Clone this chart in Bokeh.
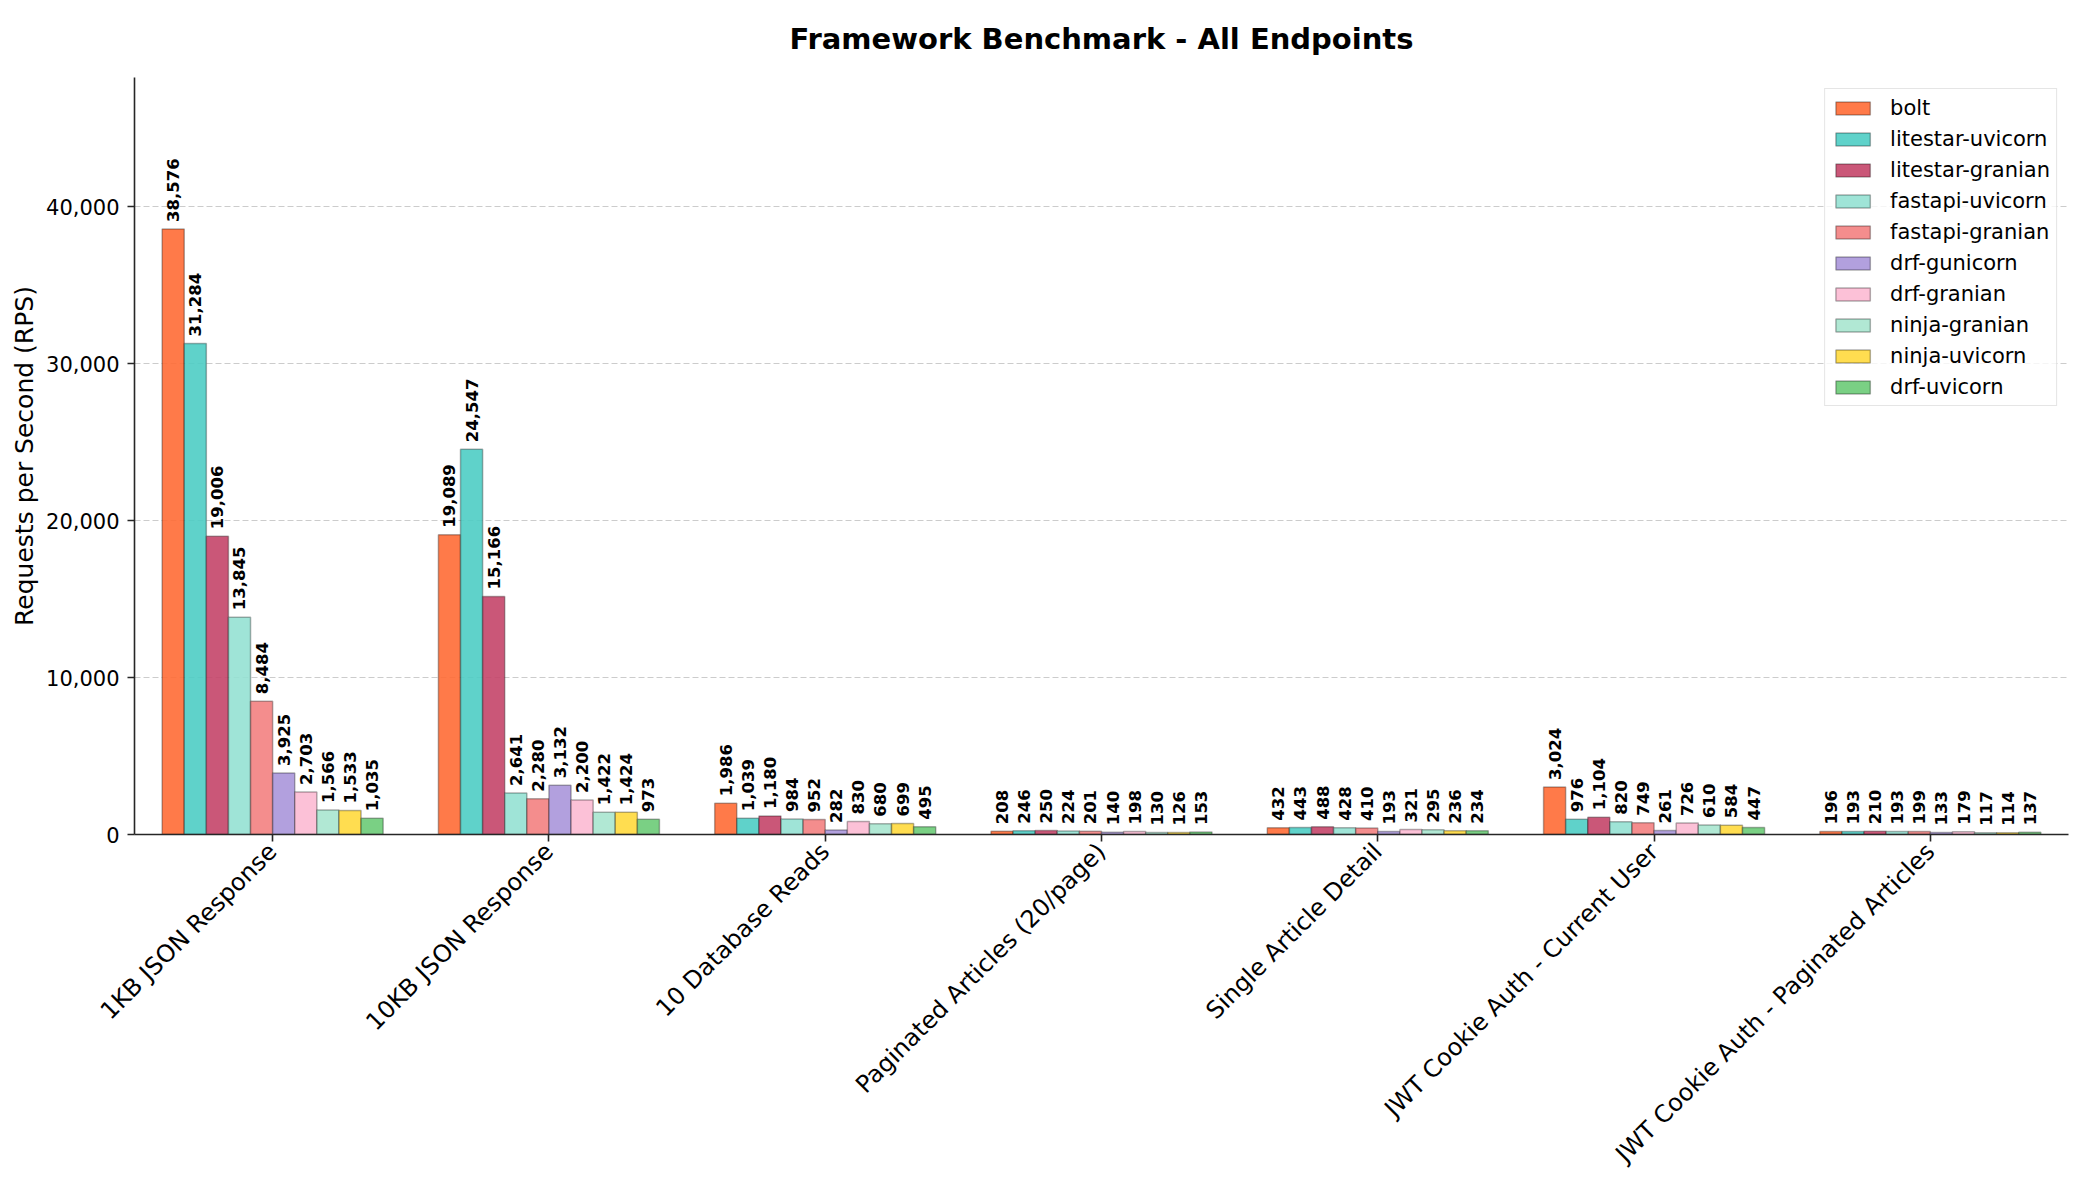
from math import pi
from bokeh.plotting import figure
from bokeh.models import ColumnDataSource, FactorRange, Range1d, NumeralTickFormatter, Title
from bokeh.transform import dodge
from bokeh.core.properties import value
from bokeh.embed import file_html
from bokeh.resources import INLINE

# ---- data ----
endpoints = [
    "1KB JSON Response",
    "10KB JSON Response",
    "10 Database Reads",
    "Paginated Articles (20/page)",
    "Single Article Detail",
    "JWT Cookie Auth - Current User",
    "JWT Cookie Auth - Paginated Articles",
]
frameworks = [
    "bolt", "litestar-uvicorn", "litestar-granian", "fastapi-uvicorn", "fastapi-granian",
    "drf-gunicorn", "drf-granian", "ninja-granian", "ninja-uvicorn", "drf-uvicorn",
]
colors = [
    "#FF6B35", "#4ECDC4", "#C44569", "#95E1D3", "#F38181",
    "#AA96DA", "#FCBAD3", "#A8E6CF", "#FFD93D", "#6BCB77",
]
bolt             = [38576, 19089, 1986, 208, 432, 3024, 196]
litestar_uvicorn = [31284, 24547, 1039, 246, 443, 976, 193]
litestar_granian = [19006, 15166, 1180, 250, 488, 1104, 210]
fastapi_uvicorn  = [13845, 2641, 984, 224, 428, 820, 193]
fastapi_granian  = [8484, 2280, 952, 201, 410, 749, 199]
drf_gunicorn     = [3925, 3132, 282, 140, 193, 261, 133]
drf_granian      = [2703, 2200, 830, 198, 321, 726, 179]
ninja_granian    = [1566, 1422, 680, 130, 295, 610, 117]
ninja_uvicorn    = [1533, 1424, 699, 126, 236, 584, 114]
drf_uvicorn      = [1035, 973, 495, 153, 234, 447, 137]
y_ticks = [0, 10000, 20000, 30000, 40000]
title_text = "Framework Benchmark - All Endpoints"

series = [bolt, litestar_uvicorn, litestar_granian, fastapi_uvicorn, fastapi_granian,
          drf_gunicorn, drf_granian, ninja_granian, ninja_uvicorn, drf_uvicorn]

ymax = max(max(s) for s in series) * 1.25
n = len(frameworks)
bar_w = 0.8 / n
FONT = "DejaVu Sans"

p = figure(
    x_range=FactorRange(*endpoints),
    y_range=Range1d(0, ymax),
    frame_width=1934, frame_height=757,
    min_border_left=134, min_border_top=77, min_border_right=6, min_border_bottom=10,
    output_backend="svg", toolbar_location=None,
    title=None,
)

for i, (name, vals, col) in enumerate(zip(frameworks, series, colors)):
    src = ColumnDataSource(dict(
        endpoint=endpoints, value=vals, label=[f"{v:,}" for v in vals]))
    off = (i - (n - 1) / 2) * bar_w
    p.vbar(x=dodge("endpoint", off, range=p.x_range), top="value", width=bar_w, source=src,
           fill_color=col, fill_alpha=0.9, line_color="black", line_alpha=0.3, line_width=1.5,
           legend_label=name)
    p.text(x=dodge("endpoint", off, range=p.x_range), y="value", text="label", source=src,
           angle=pi / 2, text_align="left", text_baseline="middle", y_offset=-7,
           text_font=value(FONT), text_font_style="bold", text_font_size="16.5px",
           text_color="black")

# title: its panel fills the whole top border, text aligned to the top
main_title = Title(text=title_text, text_font=FONT, text_font_size="29px",
                   text_font_style="bold", text_color="black", align="center",
                   vertical_align="top", standoff=39)
p.add_layout(main_title, "above")

# axes
for ax in (p.xaxis[0], p.yaxis[0]):
    ax.axis_line_color = "#262626"
    ax.axis_line_width = 1.6
    ax.major_tick_line_color = "#262626"
    ax.major_tick_line_width = 1.6
    ax.major_tick_out = 7
    ax.major_tick_in = 0
    ax.minor_tick_line_color = None
    ax.major_label_text_font = FONT
    ax.major_label_text_color = "black"

p.xaxis.major_label_orientation = pi / 4
p.xaxis.major_label_text_font_size = "24px"
p.xaxis.major_label_standoff = 6

p.yaxis.ticker = y_ticks
p.yaxis.formatter = NumeralTickFormatter(format="0,0")
p.yaxis.major_label_text_font_size = "21px"
p.yaxis.major_label_standoff = 8
p.yaxis.axis_label = "Requests per Second (RPS)"
p.yaxis.axis_label_text_font = FONT
p.yaxis.axis_label_text_font_size = "25px"
p.yaxis.axis_label_text_font_style = "normal"
p.yaxis.axis_label_text_color = "black"
p.yaxis.axis_label_standoff = 4

p.xgrid.visible = False
p.ygrid.grid_line_color = "#cccccc"
p.ygrid.grid_line_dash = "6 3"
p.ygrid.grid_line_width = 1
p.outline_line_color = None

# legend
lg = p.legend[0]
lg.location = "top_right"
lg.margin = 11
lg.padding = 6
lg.spacing = 6
lg.glyph_width = 43
lg.glyph_height = 16
lg.label_height = 25
lg.label_standoff = 16
lg.label_text_font = FONT
lg.label_text_font_size = "21px"
lg.label_text_color = "black"
lg.border_line_color = "#cccccc"
lg.border_line_width = 1.5
lg.background_fill_alpha = 0.8

open("out.html", "w").write(file_html(p, INLINE))
